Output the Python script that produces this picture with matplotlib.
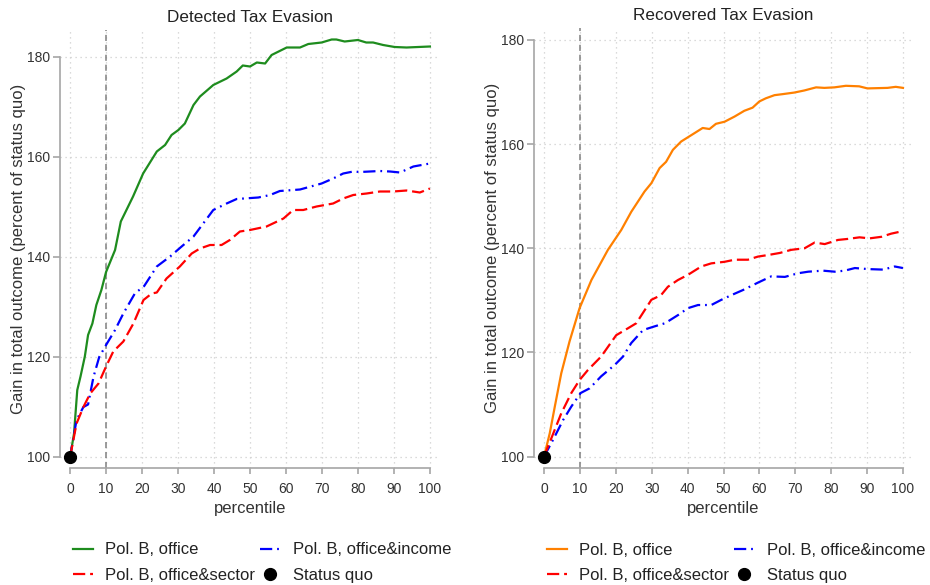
import matplotlib
matplotlib.use("Agg")
import matplotlib.pyplot as plt

plt.rcParams['font.family'] = ['Liberation Sans', 'DejaVu Sans']

# ---------------- data ----------------
# Detected tax evasion
det_office_x = [0, 1.1, 2, 2.9, 4.1, 5, 6.2, 7.3, 8.7, 10, 12.5, 14.1, 17.5, 20.3, 24.1, 26.4,
                28.2, 30.1, 31.9, 34.3, 36.1, 39.8, 43.5, 46.3, 48, 50, 51.9, 54.2, 56, 60.2,
                63.9, 66.2, 69.9, 72.7, 74, 76.3, 80, 82.3, 84.2, 87, 90.2, 93.5, 100]
det_office_y = [100, 104.7, 113.4, 116.1, 120.1, 124.4, 126.7, 130.4, 133.4, 137, 141.4, 147.1,
                152.1, 156.7, 161.1, 162.4, 164.4, 165.4, 166.7, 170.4, 172.1, 174.4, 175.7,
                177.1, 178.3, 178.1, 178.9, 178.7, 180.4, 181.9, 181.9, 182.6, 182.9, 183.5,
                183.5, 183.1, 183.4, 182.9, 182.9, 182.4, 182, 181.9, 182.1]

det_income_x = [0, 1.8, 3.7, 5, 6.5, 8.1, 10, 12.5, 14.8, 18, 20.6, 24.1, 27.8, 31, 34.3, 37,
                39.8, 43.5, 46.3, 52.3, 55.6, 58.3, 63.9, 69.9, 73.1, 75.9, 78.7, 80.6, 86.1,
                88.9, 91.7, 95.4, 100]
det_income_y = [100, 107.4, 110, 110.5, 116, 120, 122.4, 125.4, 128.7, 132.7, 134.2, 138.1,
                140.1, 142.1, 144.1, 146.7, 149.4, 150.7, 151.6, 151.9, 152.4, 153.2, 153.5,
                154.7, 155.7, 156.7, 157.1, 157, 157.2, 157.1, 156.9, 158.1, 158.7]

det_sector_x = [0, 1.8, 3.7, 5.6, 7.9, 10, 12, 14.8, 17.6, 20.4, 22.7, 24.1, 26.8, 30.5, 33.8,
                36.1, 38.9, 42.1, 44.4, 47.2, 50, 54.6, 59.3, 62, 64.8, 68.5, 73.1, 75.9, 78.7,
                82.4, 86.1, 89.8, 93.5, 97.2, 100]
det_sector_y = [100, 106.7, 110, 112.7, 114.7, 118.1, 121.1, 123.1, 126.7, 131.4, 132.7, 132.9,
                135.7, 138.1, 140.7, 141.7, 142.4, 142.4, 143.4, 145.1, 145.4, 146.1, 147.7,
                149.4, 149.4, 150.1, 150.7, 151.7, 152.4, 152.7, 153.1, 153.1, 153.3, 152.9,
                153.7]

# Recovered tax evasion
rec_office_x = [0, 1.6, 3, 4.8, 7.1, 9.9, 13.2, 17.8, 21.5, 24.3, 28, 29.9, 32.2, 34, 35.9,
                38.2, 41.9, 44.2, 46.1, 47.9, 50.3, 53.1, 55.8, 58.1, 60, 61.8, 64.2, 66.5,
                69.7, 72.5, 75.8, 78.1, 80.9, 84.1, 87.8, 90.1, 95.7, 98, 100]
rec_office_y = [100, 104.5, 109.6, 116, 122.1, 128.5, 133.9, 139.7, 143.5, 147, 150.9, 152.5,
                155.4, 156.6, 158.9, 160.5, 162.1, 163.1, 162.9, 163.9, 164.3, 165.3, 166.4,
                167, 168.2, 168.8, 169.4, 169.6, 169.9, 170.3, 170.9, 170.8, 170.9, 171.2,
                171.1, 170.7, 170.8, 171, 170.8]

rec_income_x = [0, 2.5, 5.3, 7.6, 10.2, 12.7, 15.9, 19.7, 22, 24.3, 27.6, 30.8, 33.7, 37.4,
                40.1, 42.9, 46.6, 49.4, 52.2, 55.5, 59.6, 63.3, 67.1, 70.8, 73.6, 77.7, 81,
                83.8, 86.6, 90.3, 94.5, 97.7, 100]
rec_income_y = [100, 103.2, 107, 109.6, 112.2, 113.1, 115.4, 117.6, 119.2, 121.8, 124.3, 125,
                125.6, 127.2, 128.5, 129.1, 129.1, 130.1, 131, 132, 133.4, 134.6, 134.5, 135.2,
                135.5, 135.7, 135.5, 135.7, 136.2, 136, 135.9, 136.5, 136.2]

rec_sector_x = [0, 2.2, 4.8, 7.6, 9.9, 12.2, 15.9, 20.1, 23.3, 25.7, 29.9, 32.6, 34.5, 37.3,
                40.1, 43.8, 46.6, 50.3, 53.1, 56.8, 59.6, 62.4, 65.7, 68.9, 72.6, 75.4, 78.2,
                81.9, 84.7, 87.9, 90.7, 94, 96.7, 100]
rec_sector_y = [100, 103.8, 108.3, 112.2, 114.7, 116.6, 119.2, 123.3, 124.6, 125.6, 130.1, 131,
                132.6, 133.9, 134.9, 136.5, 137.1, 137.4, 137.8, 137.8, 138.4, 138.7, 139.1,
                139.7, 140, 141.1, 140.8, 141.6, 141.8, 142.1, 141.9, 142.2, 142.8, 143.3]

status_quo_x = [0]
status_quo_y = [100]
cutoff = 10

x_ticks = list(range(0, 101, 10))
y_ticks = [100, 120, 140, 160, 180]
labels = ["Pol. B, office", "Pol. B, office&income", "Pol. B, office&sector", "Status quo"]

# ---------------- styling ----------------
TXT = "#333333"
AXC = "#a6a6a6"
GRID = "#cfcfcf"
LW = 1.6
DASH = (5.5, 2.2)
DASHDOT = (5.5, 2.2, 0.8, 2.2)


def panel(ax, title, office_x, office_y, office_color, inc_x, inc_y, sec_x, sec_y, ylim):
    ax.set_xlim(-2.8, 102.8)
    ax.set_ylim(*ylim)
    ax.set_xticks(x_ticks)
    ax.set_yticks(y_ticks)
    ax.grid(True, linestyle=(0, (1, 3)), color=GRID, linewidth=0.9)
    ax.set_axisbelow(True)
    for s in ("top", "right"):
        ax.spines[s].set_visible(False)
    ax.spines["left"].set_bounds(100, 180)
    ax.spines["bottom"].set_bounds(0, 100)
    for s in ("left", "bottom"):
        ax.spines[s].set_color(AXC)
        ax.spines[s].set_linewidth(1.2)
    ax.tick_params(axis="x", length=4, width=1.2, color=AXC, labelcolor=TXT,
                   labelsize=10, pad=6)
    ax.tick_params(axis="y", length=5, width=1.2, color=AXC, labelcolor=TXT,
                   labelsize=10, pad=2)

    ax.axvline(cutoff, color="#808080", linestyle=(0, (4, 2.5)), linewidth=1.1, zorder=1)

    l1, = ax.plot(office_x, office_y, color=office_color, linewidth=LW, zorder=3)
    l2, = ax.plot(inc_x, inc_y, color="#0000ff", linewidth=LW, linestyle=(0, DASHDOT), zorder=3)
    l3, = ax.plot(sec_x, sec_y, color="#ff0000", linewidth=LW, linestyle=(0, DASH), zorder=3)
    l4, = ax.plot(status_quo_x, status_quo_y, "o", color="black", markersize=8.5,
                  linestyle="none", zorder=5, clip_on=False)

    ax.set_title(title, fontsize=12.3, color="#222222", pad=6)
    ax.set_xlabel("percentile", fontsize=12, color=TXT, labelpad=4)
    ax.set_ylabel("Gain in total outcome (percent of status quo)", fontsize=12,
                  color=TXT, labelpad=0.5)

    handles = [l1, l3, l2, l4]
    hl = [labels[0], labels[2], labels[1], labels[3]]
    leg = ax.legend(handles, hl, ncol=2, loc="upper left",
                    bbox_to_anchor=(0.033, -0.17), frameon=False, fontsize=12,
                    handlelength=1.25, handletextpad=0.7, columnspacing=0.3,
                    labelspacing=0.62, borderpad=0, borderaxespad=0)
    for t in leg.get_texts():
        t.set_color("#222222")
    return ax


fig = plt.figure(figsize=(9.3, 5.85), dpi=100)
ax1 = fig.add_axes([60 / 930, 117 / 585, 380 / 930, 438 / 585])
ax2 = fig.add_axes([534 / 930, 117 / 585, 379 / 930, 440 / 585])

panel(ax1, "Detected Tax Evasion", det_office_x, det_office_y, "#1e8c1e",
      det_income_x, det_income_y, det_sector_x, det_sector_y, (97.8, 185.4))
panel(ax2, "Recovered Tax Evasion", rec_office_x, rec_office_y, "#ff8000",
      rec_income_x, rec_income_y, rec_sector_x, rec_sector_y, (97.8, 182.3))

fig.savefig("out.png", dpi=100, facecolor="white")
